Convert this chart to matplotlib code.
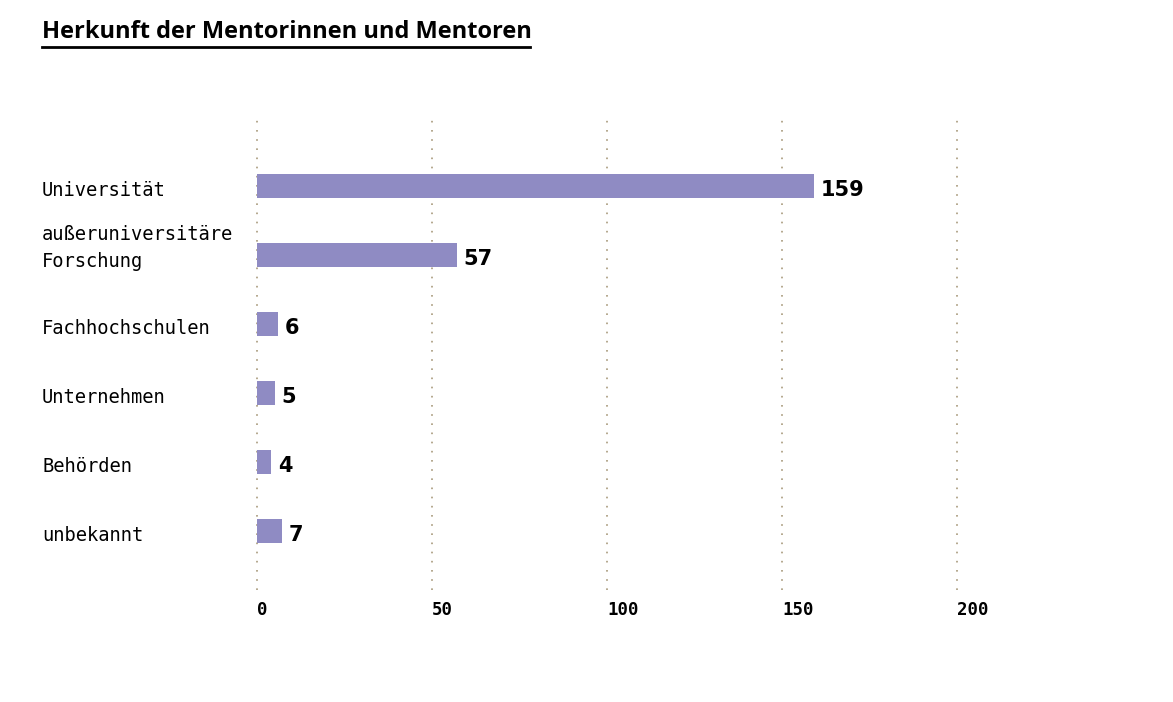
import matplotlib.pyplot as plt
import matplotlib.transforms as mtransforms

CATEGORIES = ["Universität", "außeruniversitäre\nForschung", "Fachhochschulen",
              "Unternehmen", "Behörden", "unbekannt"]
VALUES = [159, 57, 6, 5, 4, 7]
TICKS = [0, 50, 100, 150, 200]

BAR_COLOR = "#8f8bc3"
GRID_COLOR = "#a89a7c"
MONO = "DejaVu Sans Mono"

fig = plt.figure(figsize=(11.73, 7.02), dpi=100)
ax = fig.add_axes([257 / 1173, 112 / 702, 700 / 1173, 472 / 702])

pos = list(range(len(CATEGORIES)))
ax.barh(pos, VALUES, height=0.35, color=BAR_COLOR, zorder=2)
ax.set_xlim(0, 200)
ax.set_ylim(len(CATEGORIES) - 1 + 0.855, -0.985)

for x in TICKS:
    ax.axvline(x, color=GRID_COLOR, linestyle=(0, (1, 4.5)), linewidth=1.2,
               zorder=1, clip_on=False)

for spine in ax.spines.values():
    spine.set_visible(False)
ax.set_yticks([])
ax.set_xticks(TICKS)
ax.set_xticklabels([str(t) for t in TICKS], fontfamily=MONO, fontsize=12.5,
                   fontweight="bold", ha="left")
ax.tick_params(axis="x", length=0, pad=8)

# value labels
for p, v in zip(pos, VALUES):
    ax.text(v + 2, p + 0.06, str(v), va="center", ha="left", fontsize=15,
            fontweight="bold", fontfamily="DejaVu Sans", zorder=3)

# category labels at left of figure
trans = mtransforms.blended_transform_factory(fig.transFigure, ax.transData)
for p, c in zip(pos, CATEGORIES):
    off = -0.1 if "\n" in c else 0.07
    ax.text(42 / 1173, p + off, c, transform=trans, va="center", ha="left",
            fontsize=13.5, fontfamily=MONO, linespacing=1.5)

# title with underline
fig.text(42 / 1173, 1 - 32 / 702, "Herkunft der Mentorinnen und Mentoren",
         fontsize=17, fontweight="bold", fontfamily="Open Sans", va="center", ha="left")
fig.add_artist(plt.Line2D([42 / 1173, 530 / 1173], [1 - 47 / 702, 1 - 47 / 702],
                          color="black", linewidth=2))

fig.savefig("out.png", dpi=100)
